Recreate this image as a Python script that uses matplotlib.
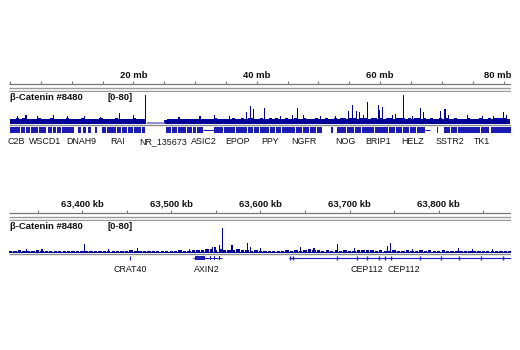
import numpy as np
import matplotlib
matplotlib.use("Agg")
import matplotlib.pyplot as plt

plt.rcParams["font.family"] = ["Liberation Sans", "DejaVu Sans"]

nan = np.nan

# ---- whole-chromosome view (mb) ----
top_xlim = (-0.16, 81.2)
top_tick_step = 5
top_labels = [20, 40, 60, 80]
# background signal, 0.5 mb bins starting at 0 mb (nan = no data)
bg_top_step = 0.5
bg_top = [
    13, 11, 14, 12, 15, 12, 11, 13, 12, 14, 11, 13, 12, 14, 13, 11, 12, 13, 14, 11,
    12, 13, 11, 14, 12, 11, 13, 12, 11, 14, 12, 13, 11, 12, 14, 12, 13, 11, 12, 13,
    14, 12, 11, 13, nan, nan, nan, nan, nan, nan, 10, 12, 11, 13, 12, 11, 12, 13, 11, 12,
    11, 12, 13, 11, 12, 12, 14, 12, 13, 12, 11, 13, 14, 12, 13, 14, 13, 15, 14, 13,
    13, 14, 12, 13, 14, 13, 15, 13, 12, 14, 13, 12, 14, 13, 12, 14, 13, 12, 13, 14,
    13, 12, 14, 13, 12, 14, 13, 15, 14, 13, 14, 15, 13, 14, 15, 14, 13, 14, 15, 13,
    14, 13, 15, 14, 13, 14, 15, 14, 13, 14, 13, 14, 15, 13, 14, 13, 14, 13, 12, 14,
    13, 14, 13, 12, 14, 13, 12, 13, 14, 13, 12, 13, 14, 13, 12, 14, 13, 14, 15, 14,
    14, 13]
peak_top_pos = [1.2, 2.6, 4.4, 7.0, 9.3, 12.1, 14.6, 17.7, 20.0, 21.9,
                27.4, 30.8, 33.1, 35.6, 38.3, 39.0, 39.5, 41.2, 43.9, 45.8,
                46.6, 47.6, 50.3, 52.8, 54.9, 55.5, 56.2, 56.7, 57.3, 58.0,
                59.7, 59.9, 60.4, 62.0, 62.5, 63.8, 65.3, 66.6, 67.0, 69.8,
                70.5, 71.1, 74.2, 76.6, 78.4, 80.0, 80.5]
peak_top_val = [19, 22, 19, 22, 19, 19, 18, 27, 22, 76,
                18, 19, 22, 19, 29, 45, 37, 40, 19, 22,
                40, 22, 19, 19, 32, 48, 32, 29, 22, 56,
                48, 35, 43, 22, 26, 76, 19, 40, 29, 32,
                37, 22, 22, 19, 19, 29, 22]
gap_top = (22.2, 25.2)
genes_top = [(0.0, 0.9), (1.0, 1.6), (1.75, 2.5), (2.6, 3.2), (3.35, 4.6), (4.7, 5.8),
             (6.1, 6.8), (6.9, 7.4), (7.55, 8.3), (8.4, 9.0), (9.15, 10.4),
             (11.1, 11.5), (11.8, 12.4), (12.7, 13.1), (13.8, 14.1),
             (14.9, 15.6), (15.7, 16.3), (16.45, 17.2), (17.3, 18.0), (18.15, 19.0),
             (19.1, 19.9), (20.05, 21.2), (21.4, 21.9),
             (25.3, 26.1), (26.2, 27.0), (27.15, 28.6), (28.75, 29.5), (29.6, 30.2),
             (30.35, 31.3), (33.0, 34.6), (34.75, 35.6), (35.7, 36.5), (36.65, 38.4),
             (38.55, 39.4), (39.5, 40.3), (40.45, 42.0), (42.15, 43.0), (43.1, 44.0),
             (44.15, 46.2), (46.35, 47.4), (47.5, 48.4), (48.55, 49.6), (49.7, 50.6),
             (52.1, 52.3), (53.0, 54.5), (54.65, 55.8), (55.9, 56.9), (57.05, 59.0),
             (59.15, 60.1), (60.2, 61.2), (61.35, 62.4), (62.5, 63.5), (63.65, 64.7),
             (64.8, 65.8), (65.95, 67.2), (69.2, 69.4), (70.3, 71.3), (71.4, 72.4),
             (72.55, 74.8), (74.95, 76.2), (76.3, 77.6), (77.9, 79.5), (79.65, 81.2)]
introns_top = [(31.3, 33.0), (67.2, 68.0)]
gene_names_top = ["C2B", "WSCD1", "DNAH9", "RAI", "NR_135673", "ASIC2", "EPOP",
                  "PPY", "NGFR", "NOG", "BRIP1", "HELZ", "SSTR2", "TK1"]
gene_pos_top = [1.0, 5.7, 11.5, 17.5, 24.8, 31.5, 36.9,
                42.2, 47.7, 54.4, 59.7, 65.3, 71.3, 76.5]

# ---- zoomed view around AXIN2 (kb) ----
bot_xlim = (63318.0, 63880.9)
bot_tick_step = 50
bot_labels = [63400, 63500, 63600, 63700, 63800]
bg_bot_start = 63318
bg_bot_step = 5
bg_bot = [
    5, 4, 6, 5, 4, 5, 6, 4, 5, 4,
    5, 4, 5, 4, 4, 5, 4, 5, 4, 5,
    4, 5, 4, 4, 5, 4, 5, 6, 4, 5,
    4, 5, 5, 4, 5, 4, 5, 5, 6, 5,
    5, 6, 7, 6, 8, 9, 7, 8, 7, 6,
    7, 8, 7, 6, 5, 6, 5, 4, 5, 5,
    4, 5, 6, 5, 6, 5, 7, 8, 7, 6,
    5, 6, 5, 6, 5, 6, 5, 5, 6, 7,
    6, 7, 5, 6, 5, 5, 6, 5, 5, 6,
    5, 5, 6, 5, 6, 5, 5, 6, 5, 4,
    5, 4, 5, 4, 5, 5, 4, 5, 4, 5,
    4, 5, 4]
peak_bot_pos = [63338, 63355, 63403, 63430, 63462, 63520, 63546, 63549, 63554, 63557,
                63568, 63585, 63589, 63600, 63645, 63660, 63686, 63705, 63742, 63746,
                63770, 63822, 63838, 63860]
peak_bot_val = [9, 10, 21, 10, 12, 10, 14, 14, 19, 64,
                19, 24, 14, 12, 14, 13, 21, 12, 16, 24,
                10, 11, 10, 9]
crat40 = 63454
axin2 = (63524.7, 63557.3)
axin2_exons = [(63527, 63538), (63543.5, 63544.8), (63547.5, 63548.8), (63553.5, 63554.8)]
cep112 = (63631.5, 63881)
cep112_exons = [63632.6, 63636, 63685.4, 63707.9, 63719.1, 63732.6, 63739.3,
                63746.1, 63778.7, 63802.3, 63822.5, 63847.2, 63871.9]
gene_names_bot = ["CRAT40", "AXIN2", "CEP112", "CEP112"]
gene_pos_bot = [63454, 63540.4, 63719, 63760.7]

track_name = "β-Catenin #8480"
track_range = "[0-80]"

SIG = "#000099"
GENE = "#1c1cb4"
TXT = "#111111"
HEAD_FS = 6.8
GENE_FS = 6.4
W, H = 520, 350

fig = plt.figure(figsize=(W / 100, H / 100), dpi=100)


def box(x0, y0, x1, y1):
    ax = fig.add_axes([x0 / W, 1 - y1 / H, (x1 - x0) / W, (y1 - y0) / H])
    ax.set_axis_off()
    return ax


def ruler(y0, xlim, step, labels, fmt):
    ax = box(9, y0, 511, y0 + 26)
    ax.set_xlim(*xlim)
    ax.set_ylim(y0 + 26, y0)
    ax.hlines(y0 + 18, *xlim, color="#777777", lw=0.9)
    first = np.ceil(xlim[0] / step) * step
    ticks = np.arange(first, xlim[1], step)
    ax.vlines(ticks, y0 + 14.5, y0 + 18, color="#777777", lw=0.8)
    for v in labels:
        # last label is pulled inside the frame when it would run off the edge
        near_end = (xlim[1] - v) / (xlim[1] - xlim[0]) < 0.03
        ax.text(xlim[1] if near_end else v, y0 + 9, fmt(v),
                ha="right" if near_end else "center", va="center",
                fontsize=HEAD_FS, fontweight="bold", color=TXT)
    ax.hlines(y0 + 22.3, *xlim, color="#9a9a9a", lw=1.0)
    ax.hlines(y0 + 24.6, *xlim, color="#9a9a9a", lw=1.0)
    return ax


def track(y0, y1, xlim, bg_x, bg_w, bg, px, pv):
    ax = box(9, y0, 511, y1)
    ax.set_xlim(*xlim)
    ax.set_ylim(0, 80)
    ax.bar(bg_x, bg, width=bg_w, align="edge", color=SIG, linewidth=0)
    ax.bar(px, pv, width=(xlim[1] - xlim[0]) / 501 * 1.1, color=SIG, linewidth=0)
    fig.text(10 / W, 1 - (y0 + 4.5) / H, track_name, fontsize=HEAD_FS,
             fontweight="bold", color=TXT, va="center")
    fig.text(107 / W, 1 - (y0 + 4.5) / H, track_range, fontsize=HEAD_FS,
             fontweight="bold", color=TXT, va="center")
    return ax


# top panel: ruler, signal, genes
ruler(66, top_xlim, top_tick_step, top_labels, lambda v: f"{v} mb")
bg_top_x = np.arange(len(bg_top)) * bg_top_step
ax = track(93, 123.5, top_xlim, bg_top_x, bg_top_step, bg_top, peak_top_pos, peak_top_val)
ax.hlines(0.6, *gap_top, color="#7a7ac8", lw=1.2)

gax = box(9, 123, 511, 148)
gax.set_xlim(*top_xlim)
gax.set_ylim(148, 123)
gax.hlines(125, *top_xlim, color="#8c8c8c", lw=1.0)
gax.broken_barh([(a, b - a) for a, b in genes_top], (127, 6), color=GENE, linewidth=0)
for a, b in introns_top:
    gax.hlines(130, a, b, color=GENE, lw=0.8)
for name, x in zip(gene_names_top, gene_pos_top):
    gax.text(x, 141.5, name, ha="center", va="center", fontsize=GENE_FS, color=TXT)

# bottom panel: ruler, signal, genes
ruler(195, bot_xlim, bot_tick_step, bot_labels, lambda v: f"{v:,} kb")
bg_bot_x = bg_bot_start + np.arange(len(bg_bot)) * bg_bot_step
ax = track(222, 252.5, bot_xlim, bg_bot_x, bg_bot_step * 0.75, bg_bot, peak_bot_pos, peak_bot_val)
ax.hlines(0.6, *bot_xlim, color=SIG, lw=0.8)

gax = box(9, 252, 511, 276)
gax.set_xlim(*bot_xlim)
gax.set_ylim(276, 252)
gax.hlines(253.8, *bot_xlim, color="#8c8c8c", lw=1.0)
gax.vlines(crat40, 256, 260, color=GENE, lw=0.8)
gax.hlines(258, *axin2, color=GENE, lw=0.8)
gax.broken_barh([(a, b - a) for a, b in axin2_exons], (256, 4), color=GENE, linewidth=0)
gax.hlines(258, *cep112, color=GENE, lw=0.8)
gax.vlines(cep112_exons, 256, 260, color=GENE, lw=1.0)
for name, x in zip(gene_names_bot, gene_pos_bot):
    gax.text(x, 270, name, ha="center", va="center", fontsize=GENE_FS, color=TXT)

fig.savefig("out.png", dpi=100)
